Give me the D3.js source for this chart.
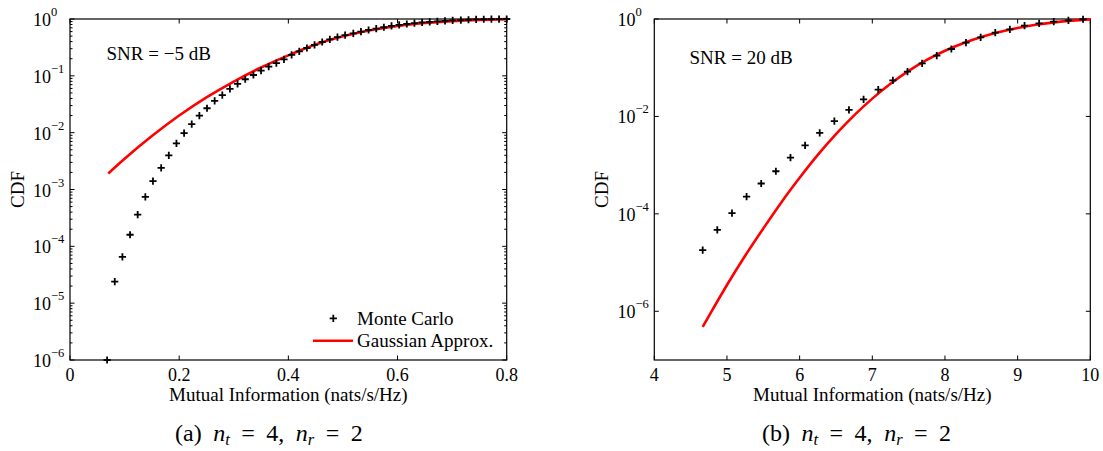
<!DOCTYPE html>
<html><head><meta charset="utf-8">
<script src="https://cdn.jsdelivr.net/npm/d3@7"></script>
<style>
body{margin:0;background:#fff;}
svg text{font-family:"Liberation Serif","DejaVu Serif","Times New Roman",serif;fill:#000;}
</style></head><body>
<svg id="chart" width="1103" height="451" font-family="Liberation Serif, DejaVu Serif, serif"></svg>
<script>
// ---------- data: panel (a) SNR = -5 dB ----------
const leftMcX = [0.068,0.082,0.096,0.110,0.124,0.138,0.152,0.167,0.181,0.195,0.209,0.223,0.237,0.251,0.265,0.279,0.293,0.307,0.321,0.336,0.350,0.364,0.378,0.392,0.406,0.420,0.434,0.448,0.462,0.476,0.490,0.504,0.519,0.533,0.547,0.561,0.575,0.589,0.603,0.617,0.631,0.645,0.659,0.673,0.687,0.701,0.716,0.730,0.744,0.758,0.772,0.786,0.800];
const leftMcY = [1.0e-6,2.4e-5,6.5e-5,1.6e-4,3.6e-4,7.4e-4,1.4e-3,2.4e-3,4.0e-3,6.5e-3,9.8e-3,0.0141,0.0200,0.0269,0.0363,0.0457,0.0589,0.0724,0.0871,0.1035,0.123,0.145,0.168,0.195,0.234,0.269,0.309,0.351,0.394,0.437,0.481,0.522,0.560,0.598,0.641,0.676,0.716,0.755,0.791,0.817,0.843,0.871,0.891,0.910,0.927,0.944,0.957,0.971,0.982,0.989,0.993,0.998,1.0];
const leftGaussX = [0.070,0.10,0.15,0.20,0.25,0.30,0.35,0.40,0.45,0.50,0.55,0.60,0.65,0.70,0.75,0.80];
const leftGaussY = [1.91e-3,3.47e-3,8.71e-3,0.0200,0.0417,0.0794,0.140,0.229,0.355,0.495,0.634,0.755,0.849,0.916,0.964,0.993];
const leftXTicks = [0,0.2,0.4,0.6,0.8];
const leftXTickLabels = ["0","0.2","0.4","0.6","0.8"];
const leftYExps = [0,-1,-2,-3,-4,-5,-6];

// ---------- data: panel (b) SNR = 20 dB ----------
const rightMcX = [4.666,4.867,5.069,5.270,5.471,5.673,5.874,6.075,6.276,6.478,6.679,6.880,7.082,7.283,7.484,7.686,7.887,8.088,8.289,8.491,8.692,8.893,9.095,9.296,9.497,9.699,9.900];
const rightMcY = [1.8e-5,4.7e-5,1.04e-4,2.25e-4,4.2e-4,7.5e-4,1.42e-3,2.55e-3,4.6e-3,8.0e-3,0.0136,0.0224,0.0354,0.0551,0.0828,0.123,0.177,0.242,0.327,0.421,0.524,0.614,0.730,0.815,0.881,0.940,0.989];
const rightGaussX = [4.666,4.8,5.0,5.25,5.5,5.75,6.0,6.25,6.5,6.75,7.0,7.25,7.5,7.75,8.0,8.25,8.5,8.75,9.0,9.25,9.5,9.75,10.0];
const rightGaussY = [4.79e-7,1.07e-6,3.47e-6,1.38e-5,5.01e-5,1.74e-4,5.50e-4,1.62e-3,4.32e-3,0.0105,0.0232,0.0468,0.0861,0.1445,0.223,0.318,0.427,0.541,0.653,0.759,0.851,0.927,0.982];
const rightXTicks = [4,5,6,7,8,9,10];
const rightXTickLabels = ["4","5","6","7","8","9","10"];
const rightYExps = [0,-2,-4,-6];

const legendLabels = ["Monte Carlo","Gaussian Approx."];

const svg = d3.select("#chart");
const plusPath = "M-3.6,0H3.6M0,-3.6V3.6";

function panel(o){
  const g = svg.append("g");
  const x = d3.scaleLinear().domain(o.xDomain).range([o.left,o.right]);
  const y = d3.scaleLog().domain(o.yDomain).range([o.bottom,o.top]);
  const maj = 4.5, mnr = 2.5;

  const tk = g.append("g").attr("stroke","#000").attr("stroke-width",1);
  o.xTicks.forEach(v=>{
    const px = x(v);
    tk.append("line").attr("x1",px).attr("x2",px).attr("y1",o.bottom).attr("y2",o.bottom-maj);
    tk.append("line").attr("x1",px).attr("x2",px).attr("y1",o.top).attr("y2",o.top+maj);
  });
  o.yExps.map(e=>Math.pow(10,e)).forEach(v=>{
    const py = y(v);
    tk.append("line").attr("x1",o.left).attr("x2",o.left+maj).attr("y1",py).attr("y2",py);
    tk.append("line").attr("x1",o.right).attr("x2",o.right-maj).attr("y1",py).attr("y2",py);
  });
  if(o.minor){
    y.ticks().filter(v=>{const l=Math.log10(v);return Math.abs(l-Math.round(l))>1e-6;}).forEach(v=>{
      const py = y(v);
      tk.append("line").attr("x1",o.left).attr("x2",o.left+mnr).attr("y1",py).attr("y2",py);
      tk.append("line").attr("x1",o.right).attr("x2",o.right-mnr).attr("y1",py).attr("y2",py);
    });
  }

  o.xTicks.forEach((v,i)=>{
    g.append("text").attr("x",x(v)).attr("y",o.bottom+21).attr("text-anchor","middle")
      .attr("font-size",18).text(o.xTickLabels[i]);
  });
  o.yExps.forEach(e=>{
    const t = g.append("text").attr("x",o.yLabX).attr("y",y(Math.pow(10,e))+7).attr("font-size",18);
    t.append("tspan").text("10");
    t.append("tspan").attr("font-size",12.5).attr("dy",-10).text(e===0?"0":"\u2212"+Math.abs(e));
  });

  g.append("rect").attr("x",o.left).attr("y",o.top).attr("width",o.right-o.left).attr("height",o.bottom-o.top)
    .attr("fill","none").attr("stroke","#000").attr("stroke-width",1.2);

  const line = d3.line().x(d=>x(d[0])).y(d=>y(d[1])).curve(d3.curveMonotoneX);
  g.append("path").datum(o.gx.map((v,i)=>[v,o.gy[i]])).attr("d",line)
    .attr("fill","none").attr("stroke","#ff0000").attr("stroke-width",2.6);

  g.append("g").selectAll("path").data(o.mx.map((v,i)=>[v,o.my[i]])).join("path")
    .attr("transform",d=>`translate(${x(d[0])},${y(d[1])})`).attr("d",plusPath)
    .attr("stroke","#000").attr("stroke-width",1.8).attr("fill","none");

  g.append("text").attr("x",o.snrX).attr("y",o.snrY).attr("font-size",19).text(o.snr);

  g.append("text").attr("x",(o.left+o.right)/2).attr("y",o.bottom+41).attr("text-anchor","middle")
    .attr("font-size",19).text("Mutual Information (nats/s/Hz)");
  g.append("text").attr("transform",`translate(${o.yTitleX},${(o.top+o.bottom)/2}) rotate(-90)`)
    .attr("text-anchor","middle").attr("font-size",19).text("CDF");

  // caption
  const c = g.append("text").attr("x",o.capX).attr("y",441).attr("font-size",24)
    .attr("xml:space","preserve").attr("word-spacing",5.5);
  c.append("tspan").text(o.capTag+" ");
  c.append("tspan").attr("font-style","italic").text("n");
  c.append("tspan").attr("font-style","italic").attr("font-size",16.5).attr("dy",4).text("t");
  c.append("tspan").attr("dy",-4).text(" = 4, ");
  c.append("tspan").attr("font-style","italic").text("n");
  c.append("tspan").attr("font-style","italic").attr("font-size",16.5).attr("dy",4).text("r");
  c.append("tspan").attr("dy",-4).text(" = 2");

  if(o.legend){
    const lg = g.append("g");
    lg.append("path").attr("transform","translate(333.3,318.3)").attr("d",plusPath)
      .attr("stroke","#000").attr("stroke-width",1.8);
    lg.append("text").attr("x",357).attr("y",325).attr("font-size",19).text(legendLabels[0]);
    lg.append("line").attr("x1",313).attr("x2",353).attr("y1",340.7).attr("y2",340.7)
      .attr("stroke","#ff0000").attr("stroke-width",2.6);
    lg.append("text").attr("x",357).attr("y",347).attr("font-size",19).text(legendLabels[1]);
  }
}

panel({left:70,right:506.7,top:19,bottom:360,xDomain:[0,0.8],yDomain:[1e-6,1],
  xTicks:leftXTicks,xTickLabels:leftXTickLabels,yExps:leftYExps,minor:true,yLabX:33,
  mx:leftMcX,my:leftMcY,gx:leftGaussX,gy:leftGaussY,snr:"SNR = \u22125 dB",snrX:106.5,snrY:59.5,
  yTitleX:24,capX:175,capTag:"(a)",legend:true});
panel({left:654.3,right:1090.3,top:19,bottom:360,xDomain:[4,10],yDomain:[1e-7,1],
  xTicks:rightXTicks,xTickLabels:rightXTickLabels,yExps:rightYExps,minor:false,yLabX:617.5,
  mx:rightMcX,my:rightMcY,gx:rightGaussX,gy:rightGaussY,snr:"SNR = 20 dB",snrX:689.5,snrY:63.5,
  yTitleX:608,capX:762,capTag:"(b)",legend:false});
</script>
</body></html>
